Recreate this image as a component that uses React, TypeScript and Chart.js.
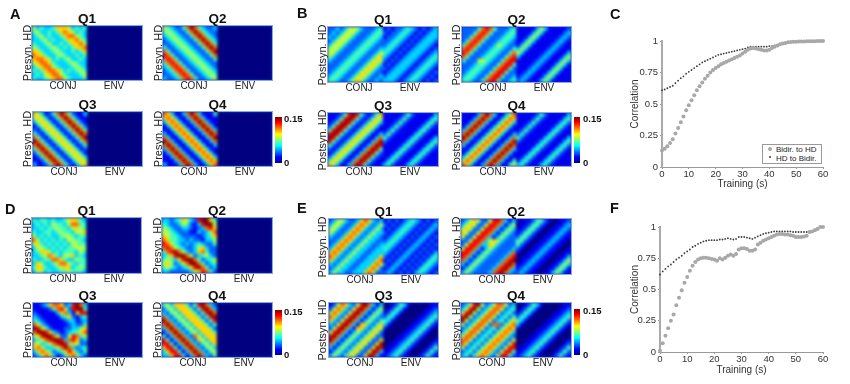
import React, { useEffect, useRef } from "react";
import { Chart, registerables } from "chart.js";
Chart.register(...registerables);

const FONT = "'Liberation Sans', Arial, sans-serif";
const MAX_VALUE = 0.15;
const COLORBAR_LABELS = ["0.15", "0"];
const X_CONJ = "CONJ";
const X_ENV = "ENV";

// Heat levels: each digit is one cell, 0..9 on the 0..0.15 scale
const ENV_EMPTY = ["00000000000000","00000000000000","00000000000000","00000000000000","00000000000000","00000000000000","00000000000000","00000000000000","00000000000000","00000000000000","00000000000000","00000000000000","00000000000000","00000000000000"];
const A_Q1 = ["53433466653434","45334346765343","34534334677543","33453433466754","43345334346675","54334543434667","66433454334346","76643345433434","67765343453343","56776433345433","35677543334543","43467765343454","34356775433345","43345677543334"];
const A_Q2 = ["54322479743223","45432247974322","34543224797432","23454322479743","22345432247974","42234543224797","74223454322479","87422345432247","78742234543224","47874223454322","34787422345432","23478742234543","22347874223454","32234787422345"];
const A_Q3 = ["65312479742113","56531247974211","35653124797421","13565312479742","21356531247974","42135653124797","74213565312479","97421356531247","79742135653124","47974213565312","24797421356531","12479742135653","11247974213565","31124797421356"];
const A_Q4 = ["76311379731114","67631137973111","36763113797311","13676311379731","11367631137973","31136763113797","73113676311379","97311367631137","79731136763113","37973113676311","13797311367631","11379731136763","11137973113676","31113797311367"];

const B_Q1 = ["22323555322234","23235553222344","32355532223443","23555322234432","35553222344322","55532223443223","55322234432235","53222344322356","32223443223565","22234432235653","22344322356532","23443223565322","34432235653223","44322356532232"];
const B_Q1_ENV = ["12122343212123","21223432121233","12234321212333","22343212123332","23432121233321","34321212333212","43212123332123","32121233321234","21212333212343","12123332123432","21233321234321","12333212343212","23332123432121","33321234321212"];
const B_Q2 = ["22224787422234","22247874222344","22478742223443","24787422234432","47874222354322","78742223443224","87422234432247","74222344322478","42225543224788","22234432247884","22344322478842","23443224788422","34432247884223","44322478842234"];
const B_Q2_ENV = ["11111353111112","11113531111123","11135311111232","11353111112321","13531111123211","35311111232111","53111112321113","31111123211135","11111232111353","11112321113531","11123211135311","11232111353111","12321113531111","23211135311111"];
const B_Q3 = ["11124898421246","11248984212465","12489842124653","24898421246531","48984212465311","89842124653113","98421246531137","84212465311379","42124653113798","21246531137984","12465311379842","24653113798421","46531137984211","65311379842111"];
const B_Q3_ENV = ["11111242111113","11112421111134","11124211111342","11242111113421","12421111134211","24211111342111","42111113421113","21111134211134","11111342111342","11113421113421","11134211134211","11342111342111","13421113421111","34211134211111"];
const B_Q4 = ["11113797311357","11137973113576","11379731135763","13797311357631","37973113576311","79731135763113","97311357631137","73113576311379","31135763113797","11357631137973","13576311379731","35763113797311","57631137973114","76311379731145"];

const D_Q1 = ["43443433456643","34343544357744","33434454435654","43344345443556","53434334554344","75343434355443","56434343435544","35543434344555","34665343444354","33457643556343","43344776433544","36533457754344","46643345663454","35534334454443"];
const D_Q2 = ["33234653289964","43223542138995","54322332123786","55432221132357","65443222212346","76443323221335","87543232343224","78754322356322","47897532367422","34689975234532","45436899742345","56523579974234","45432346897423","33222223568742"];
const D_Q3 = ["11236776238973","11112478528994","21111136731688","32111113462134","43211111233123","75321111123224","98642111223356","79986321234467","56899752258745","34578998378623","65345789846522","67533457973234","36764234686324","23576312467532"];
const D_Q4 = ["45366642489732","24536664248973","32453666424897","73245366642489","97324536664248","79732453666424","37973245366642","13797324536664","41379732753666","84137973265366","88413797324536","68841379732453","36884137973245","33688413797324"];

const E_Q1 = ["23553223676323","35532236763235","55322367632353","53223676323533","32236763235332","22367632353322","23676323533223","36763235332233","67632353322333","76323533223336","63235332233367","32353322333675","23533223336752","35332233367522"];
const E_Q1_ENV = ["12121234321212","21212343212123","12123432121232","21234321212321","12343212123212","23432121232121","34321212321212","43212123212121","32121232121213","21212321212134","12123212121343","21232121213432","12321212134321","23212121343212"];
const E_Q2 = ["23565225887313","35652258873135","56522588731353","65225887313532","52258873135322","22588735653222","25887336532222","58873135322223","88731353222237","87313532222378","73135322223789","31353222237897","13532222378973","35322223789732"];
const E_Q2_ENV = ["10112442100112","01124421001123","11244210011232","12442100112321","24421001123211","44210011232110","42100112321100","21001123211001","10011232110011","00112321100113","01123211001135","11232110011353","12321100113531","23211001135311"];
const E_Q3 = ["12576325897313","25763258973135","57632589731353","76325897313532","63258973135324","32589731663246","25897316632465","58973135324652","89731353246522","97313532465226","73135324652269","31353246522698","13532465226983","35324652269831"];
const E_Q3_ENV = ["00124310000011","01243100000112","12431000001123","24310000011234","43100000112342","31000001123421","10000011234210","00000112342100","00001123421000","00011234210001","00112342100012","01123421000124","11234210001242","12342100012421"];
const E_Q4 = ["23589523577523","35895235775234","58952357752342","89523577523424","95235775234246","52357752772467","23577523424676","35775234246763","57752342467632","77523424676325","75234246763258","52342467632588","23424676325884","34246763258842"];

// Correlation curves, one value per second of training
const C_BIDIR = [.13,.145,.165,.19,.22,.265,.31,.355,.40,.45,.49,.53,.57,.61,.64,.67,.70,.725,.75,.77,.785,.80,.815,.825,.835,.845,.855,.865,.875,.885,.90,.915,.93,.94,.945,.94,.935,.93,.925,.925,.93,.945,.955,.965,.975,.98,.985,.99,.993,.995,.995,.996,.997,.997,.998,.998,.999,.999,1,1,1];
const C_HD = [.61,.615,.625,.635,.645,.665,.685,.705,.72,.74,.755,.77,.785,.80,.815,.83,.84,.85,.86,.87,.88,.89,.895,.90,.905,.91,.915,.92,.925,.93,.935,.94,.95,.955,.955,.955,.955,.955,.955,.955,.96,.96,.965,.97,.975,.98,.985,.99,.992,.995,.995,.996,.997,.997,.998,.998,.999,.999,1,1,1];
const F_BIDIR = [.01,.07,.13,.19,.25,.30,.375,.435,.495,.555,.60,.65,.69,.72,.74,.75,.755,.755,.75,.745,.74,.73,.75,.74,.755,.77,.78,.77,.785,.82,.83,.83,.825,.81,.81,.82,.86,.875,.89,.90,.91,.92,.93,.94,.945,.945,.94,.94,.935,.93,.92,.92,.92,.925,.93,.96,.965,.975,.985,1,1];
const F_HD = [.62,.645,.665,.685,.70,.72,.74,.755,.77,.79,.805,.82,.84,.85,.865,.875,.885,.89,.895,.895,.895,.895,.90,.90,.905,.91,.905,.90,.905,.92,.92,.92,.915,.91,.905,.915,.925,.935,.945,.95,.955,.96,.965,.965,.965,.965,.965,.965,.965,.96,.96,.96,.96,.96,.96,.965,.965,.98,.99,1,1];
const SERIES_NAMES = ["Bidir. to HD", "HD to Bidir."];
const Y_TICKS_STEP = 0.25;

const clamp = (v: number) => Math.max(0, Math.min(1, v));
const jet = (v: number) => {
  const r = clamp(1.5 - Math.abs(4 * v - 3));
  const g = clamp(1.5 - Math.abs(4 * v - 2));
  const b = clamp(1.5 - Math.abs(4 * v - 1));
  return `rgb(${Math.round(r * 255)},${Math.round(g * 255)},${Math.round(b * 255)})`;
};
const JET_CSS = `linear-gradient(to top, ${Array.from({ length: 17 }, (_, i) => jet(i / 16)).join(",")})`;

type PanelDef = { t: string; x: number; y: number; w: number; h: number; conj: string[]; env: string[]; yl: string; lx: number };
const PANELS: PanelDef[] = [
  { t: "Q1", x: 32, y: 26, w: 110, h: 54, conj: A_Q1, env: ENV_EMPTY, yl: "Presyn. HD", lx: 27 },
  { t: "Q2", x: 163, y: 26, w: 109, h: 54, conj: A_Q2, env: ENV_EMPTY, yl: "Presyn. HD", lx: 158 },
  { t: "Q3", x: 33, y: 112, w: 109, h: 54, conj: A_Q3, env: ENV_EMPTY, yl: "Presyn. HD", lx: 27 },
  { t: "Q4", x: 163, y: 112, w: 109, h: 54, conj: A_Q4, env: ENV_EMPTY, yl: "Presyn. HD", lx: 158 },
  { t: "Q1", x: 328, y: 27, w: 110, h: 55, conj: B_Q1, env: B_Q1_ENV, yl: "Postsyn. HD", lx: 322 },
  { t: "Q2", x: 462, y: 27, w: 109, h: 55, conj: B_Q2, env: B_Q2_ENV, yl: "Postsyn. HD", lx: 456 },
  { t: "Q3", x: 328, y: 113, w: 110, h: 53, conj: B_Q3, env: B_Q3_ENV, yl: "Postsyn. HD", lx: 322 },
  { t: "Q4", x: 462, y: 113, w: 109, h: 53, conj: B_Q4, env: B_Q3_ENV, yl: "Postsyn. HD", lx: 456 },
  { t: "Q1", x: 32, y: 218, w: 109, h: 55, conj: D_Q1, env: ENV_EMPTY, yl: "Presyn. HD", lx: 27 },
  { t: "Q2", x: 162, y: 218, w: 110, h: 55, conj: D_Q2, env: ENV_EMPTY, yl: "Presyn. HD", lx: 157 },
  { t: "Q3", x: 33, y: 303, w: 109, h: 54, conj: D_Q3, env: ENV_EMPTY, yl: "Presyn. HD", lx: 27 },
  { t: "Q4", x: 162, y: 303, w: 110, h: 54, conj: D_Q4, env: ENV_EMPTY, yl: "Presyn. HD", lx: 157 },
  { t: "Q1", x: 329, y: 219, w: 109, h: 55, conj: E_Q1, env: E_Q1_ENV, yl: "Postsyn. HD", lx: 322 },
  { t: "Q2", x: 461, y: 219, w: 110, h: 55, conj: E_Q2, env: E_Q2_ENV, yl: "Postsyn. HD", lx: 456 },
  { t: "Q3", x: 329, y: 303, w: 109, h: 54, conj: E_Q3, env: E_Q3_ENV, yl: "Postsyn. HD", lx: 322 },
  { t: "Q4", x: 461, y: 303, w: 110, h: 54, conj: E_Q4, env: E_Q3_ENV, yl: "Postsyn. HD", lx: 456 },
];
const COLORBARS = [
  { x: 275, y: 117, w: 7, h: 46, lx: 284 },
  { x: 574, y: 117, w: 6, h: 46, lx: 583 },
  { x: 275, y: 310, w: 7, h: 45, lx: 284 },
  { x: 574, y: 309, w: 6, h: 46, lx: 583 },
];
const LETTERS = [
  { s: "A", x: 10, y: 14 }, { s: "B", x: 297, y: 13 }, { s: "C", x: 610, y: 14 },
  { s: "D", x: 5, y: 209 }, { s: "E", x: 297, y: 208 }, { s: "F", x: 610, y: 208 },
];

const CELL = 4;
function HeatPanel({ p }: { p: PanelDef }) {
  const ref = useRef<HTMLCanvasElement>(null);
  const rows = p.conj.map((r, i) => r + p.env[i]);
  const nCols = rows[0].length;
  const nRows = rows.length;
  useEffect(() => {
    const chart = new Chart(ref.current!, {
      type: "bar",
      data: {
        labels: Array.from({ length: nCols }, (_, i) => String(i)),
        datasets: rows.map((row, r) => ({
          data: row.split("").map(() => [r, r + 1] as [number, number]),
          backgroundColor: row.split("").map((d) => jet(((Number(d) / 9) * MAX_VALUE) / MAX_VALUE)),
          borderWidth: 0,
          barPercentage: 1,
          categoryPercentage: 1,
          grouped: false,
        })),
      } as any,
      options: {
        responsive: false,
        animation: false,
        devicePixelRatio: 1,
        events: [],
        layout: { padding: 0 },
        plugins: { legend: { display: false }, tooltip: { enabled: false }, title: { display: false } },
        scales: {
          x: { display: false, type: "category", offset: true },
          y: { display: false, type: "linear", min: 0, max: nRows, reverse: true },
        },
      } as any,
    });
    return () => chart.destroy();
  }, []);
  const label: React.CSSProperties = { position: "absolute", fontFamily: FONT, color: "#222", whiteSpace: "nowrap", transform: "translate(-50%,-50%)" };
  return (
    <>
      <div style={{ position: "absolute", left: p.x, top: p.y, width: p.w, height: p.h, overflow: "hidden", background: "#1535c0", outline: "1px solid rgba(105,135,200,0.75)" }}>
        <div style={{ transformOrigin: "0 0", transform: `scale(${p.w / (nCols * CELL)},${p.h / (nRows * CELL)})`, filter: "blur(1.8px)", width: nCols * CELL, height: nRows * CELL }}>
          <canvas ref={ref} width={nCols * CELL} height={nRows * CELL} style={{ display: "block" }} />
        </div>
      </div>
      <div style={{ ...label, left: p.x + p.w / 2, top: p.y - 8, fontSize: 13.5, fontWeight: 700, color: "#111" }}>{p.t}</div>
      <div style={{ ...label, left: p.x + 31, top: p.y + p.h + 5, fontSize: 10 }}>{X_CONJ}</div>
      <div style={{ ...label, left: p.x + 82, top: p.y + p.h + 5, fontSize: 10 }}>{X_ENV}</div>
      <div style={{ ...label, left: p.lx, top: p.y + p.h / 2, fontSize: 11, transform: "translate(-50%,-50%) rotate(-90deg)" }}>{p.yl}</div>
    </>
  );
}

const LEFT_PAD = 29;
function LineChart({ top, height, plotLeft, plotRight, plotTop, plotBottom, bidir, hd }: { top: number; height: number; plotLeft: number; plotRight: number; plotTop: number; plotBottom: number; bidir: number[]; hd: number[] }) {
  const ref = useRef<HTMLCanvasElement>(null);
  useEffect(() => {
    const tickFont = { family: FONT, size: 9.5 };
    const titleFont = { family: FONT, size: 10 };
    const chart = new Chart(ref.current!, {
      type: "scatter",
      data: {
        datasets: [
          { label: SERIES_NAMES[0], data: bidir.map((y, x) => ({ x, y })), pointRadius: 2, pointBackgroundColor: "#a8a8a8", pointBorderWidth: 0, clip: false },
          { label: SERIES_NAMES[1], data: hd.map((y, x) => ({ x, y })), pointRadius: 0.9, pointBackgroundColor: "#3a3a3a", pointBorderWidth: 0, clip: false },
        ],
      } as any,
      options: {
        responsive: false,
        animation: false,
        devicePixelRatio: 1,
        events: [],
        layout: { padding: { left: LEFT_PAD, right: 250 - plotRight, top: plotTop, bottom: 0 } },
        plugins: { legend: { display: false }, tooltip: { enabled: false } },
        scales: {
          x: {
            type: "linear", min: 0, max: 60,
            ticks: { stepSize: 10, color: "#333", font: tickFont, padding: 0, maxRotation: 0 },
            grid: { drawOnChartArea: false, tickLength: 2, color: "#999" },
            border: { color: "#999", width: 1 },
            title: { display: true, text: "Training (s)", color: "#333", font: titleFont, padding: 0 },
            afterFit: (s: any) => { s.height = height - plotBottom; },
          },
          y: {
            type: "linear", min: 0, max: 1,
            ticks: { stepSize: Y_TICKS_STEP, color: "#333", font: tickFont, padding: 2, callback: (v: any) => String(v) },
            grid: { drawOnChartArea: false, tickLength: 2, color: "#999" },
            border: { color: "#aaa", width: 2 },
            title: { display: true, text: "Correlation", color: "#333", font: titleFont, padding: 0 },
            afterFit: (s: any) => { s.width = plotLeft - LEFT_PAD; },
          },
        },
      } as any,
    });
    return () => chart.destroy();
  }, []);
  return <canvas ref={ref} width={250} height={height} style={{ position: "absolute", left: 600, top, display: "block" }} />;
}

export default function App() {
  const txt: React.CSSProperties = { position: "absolute", fontFamily: FONT, whiteSpace: "nowrap" };
  return (
    <div style={{ position: "fixed", left: 0, top: 0, width: 850, height: 384, background: "#fff", overflow: "hidden" }}>
      {PANELS.map((p, i) => <HeatPanel key={i} p={p} />)}
      {COLORBARS.map((c, i) => (
        <React.Fragment key={i}>
          <div style={{ position: "absolute", left: c.x, top: c.y, width: c.w, height: c.h, background: JET_CSS }} />
          <div style={{ ...txt, left: c.lx, top: c.y + 1, fontSize: 9.5, fontWeight: 700, color: "#111", transform: "translateY(-50%)" }}>{COLORBAR_LABELS[0]}</div>
          <div style={{ ...txt, left: c.lx, top: c.y + c.h - 1, fontSize: 9.5, fontWeight: 700, color: "#111", transform: "translateY(-50%)" }}>{COLORBAR_LABELS[1]}</div>
        </React.Fragment>
      ))}
      {LETTERS.map((l) => (
        <div key={l.s} style={{ ...txt, left: l.x, top: l.y, fontSize: 14.5, fontWeight: 700, color: "#111", transform: "translateY(-50%)" }}>{l.s}</div>
      ))}
      <LineChart top={0} height={190} plotLeft={62} plotRight={223} plotTop={41} plotBottom={167} bidir={C_BIDIR} hd={C_HD} />
      <LineChart top={192} height={184} plotLeft={60} plotRight={223} plotTop={35} plotBottom={160} bidir={F_BIDIR} hd={F_HD} />
      <div style={{ position: "absolute", left: 762, top: 144, width: 58, height: 18, border: "1px solid #999", background: "#fff" }} />
      <div style={{ position: "absolute", left: 768, top: 147, width: 4, height: 4, borderRadius: 2, background: "#a8a8a8" }} />
      <div style={{ position: "absolute", left: 769, top: 156, width: 2, height: 2, borderRadius: 1, background: "#3a3a3a" }} />
      <div style={{ ...txt, left: 776, top: 149, fontSize: 8, color: "#222", transform: "translateY(-50%)" }}>{SERIES_NAMES[0]}</div>
      <div style={{ ...txt, left: 776, top: 157.5, fontSize: 8, color: "#222", transform: "translateY(-50%)" }}>{SERIES_NAMES[1]}</div>
    </div>
  );
}
